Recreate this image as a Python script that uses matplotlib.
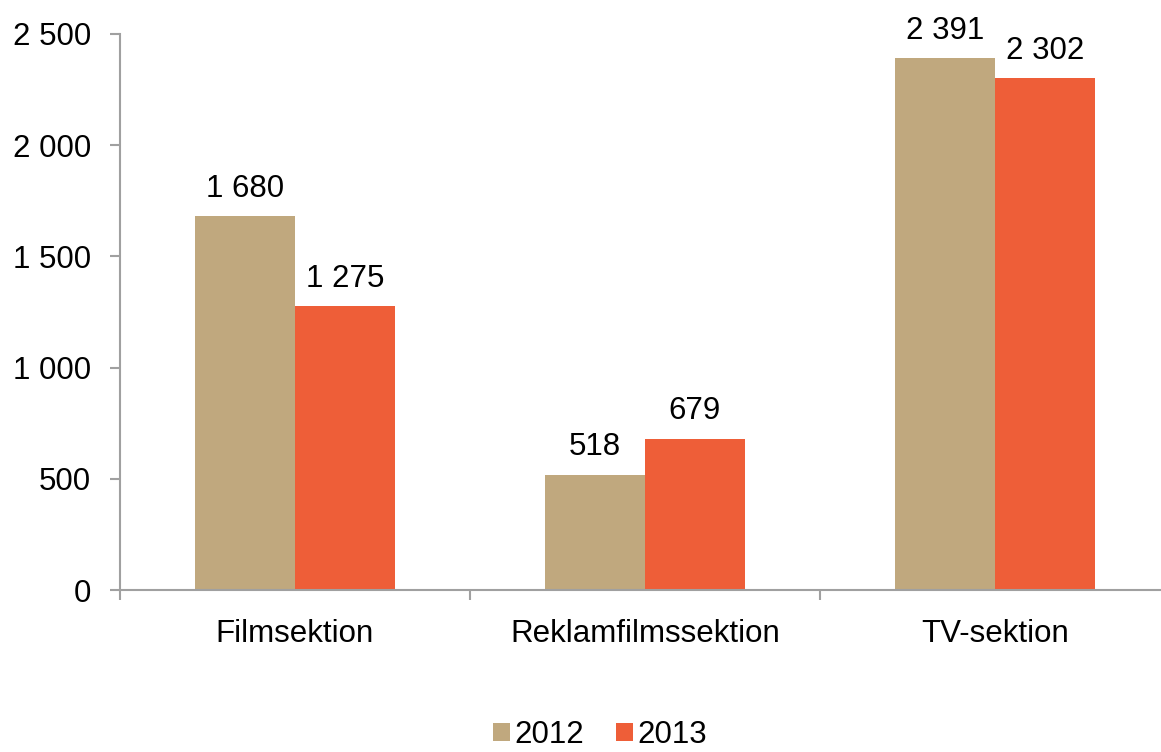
import matplotlib
matplotlib.use("Agg")
import matplotlib.pyplot as plt
import numpy as np

categories = ["Filmsektion", "Reklamfilmssektion", "TV-sektion"]
series_names = ["2012", "2013"]
values_2012 = [1680, 518, 2391]
values_2013 = [1275, 679, 2302]
yticks = [0, 500, 1000, 1500, 2000, 2500]

colors = ["#C0A87E", "#EE5E38"]
axis_col = "#A0A0A0"

plt.rcParams['font.family'] = ['Liberation Sans', 'DejaVu Sans']
FS = 22.5

def fmt(v):
    return f"{v:,}".replace(",", " ")

fig = plt.figure(figsize=(11.61, 7.52), dpi=100)
ax = fig.add_axes([120/1161, 1-590/752, 1050/1161, (590-34)/752])

x = np.arange(len(categories))
w = 100/350
b1 = ax.bar(x - w/2, values_2012, w, color=colors[0], label=series_names[0])
b2 = ax.bar(x + w/2, values_2013, w, color=colors[1], label=series_names[1])

for bars, vals in ((b1, values_2012), (b2, values_2013)):
    for r, v in zip(bars, vals):
        ax.annotate(fmt(v), (r.get_x() + r.get_width()/2, v), xytext=(0, 9),
                    textcoords="offset points", ha="center", va="bottom", fontsize=FS)

ax.set_xlim(-0.5, len(categories) - 0.5)
ax.set_ylim(0, 2500)
ax.set_yticks(yticks)
ax.set_yticklabels([fmt(t) for t in yticks], fontsize=FS)
ax.set_xticks(x)
ax.set_xticklabels(categories, fontsize=FS)
ax.tick_params(axis='x', length=0, pad=21)
ax.set_xticks(np.arange(len(categories) + 1) - 0.5, minor=True)
ax.tick_params(axis='x', which='minor', length=7, color=axis_col, width=1.5)
ax.tick_params(axis='y', length=7, color=axis_col, width=1.5, pad=14)

for s in ["top", "right"]:
    ax.spines[s].set_visible(False)
for s in ["left", "bottom"]:
    ax.spines[s].set_color(axis_col)
    ax.spines[s].set_linewidth(1.5)

leg = fig.legend(loc="center", bbox_to_anchor=(600/1161, 1-735/752), ncol=2,
                 frameon=False, fontsize=FS, handlelength=0.55, handleheight=0.55,
                 handletextpad=0.15, columnspacing=1.0)

fig.savefig("out.png", dpi=100)
